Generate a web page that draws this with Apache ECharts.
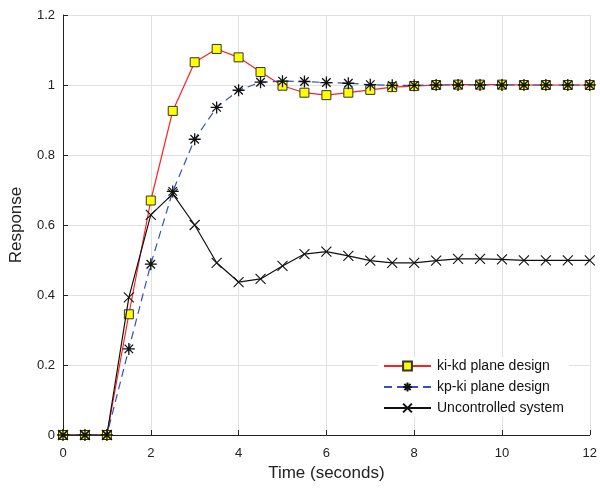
<!DOCTYPE html>
<html>
<head>
<meta charset="utf-8">
<script src="https://cdn.jsdelivr.net/npm/echarts@6/dist/echarts.min.js"></script>
<style>
html,body{margin:0;padding:0;background:#fff;}
#chart{width:600px;height:488px;}
</style>
</head>
<body>
<div id="chart"></div>
<script>
const time = [0,0.5,1,1.5,2,2.5,3,3.5,4,4.5,5,5.5,6,6.5,7,7.5,8,8.5,9,9.5,10,10.5,11,11.5,12];
const kikd = [0,0,0,0.345,0.670,0.926,1.065,1.103,1.079,1.037,0.998,0.978,0.971,0.978,0.986,0.994,0.997,1.000,1.001,1.001,1.001,1.000,1.000,1.000,1.000];
const kpki = [0,0,0,0.246,0.488,0.696,0.845,0.936,0.985,1.008,1.011,1.010,1.007,1.005,1.001,0.999,0.999,1.000,1.000,1.000,1.000,1.000,1.000,1.000,1.000];
const uncontrolled = [0,0,0,0.393,0.629,0.689,0.600,0.492,0.437,0.446,0.483,0.517,0.524,0.512,0.498,0.492,0.492,0.498,0.503,0.503,0.502,0.499,0.499,0.499,0.499];
const seriesNames = ['ki-kd plane design','kp-ki plane design','Uncontrolled system'];

const pairs = arr => time.map((t,i)=>[t,arr[i]]);
const FONT = '"Liberation Sans", Arial, sans-serif';
const starPath = 'path://M0,-10L0,10M-10,0L10,0M-7.07,-7.07L7.07,7.07M-7.07,7.07L7.07,-7.07';
const xPath = 'path://M-10,-10L10,10M-10,10L10,-10';

const chart = echarts.init(document.getElementById('chart'), null, {renderer:'canvas'});
chart.setOption({
  animation:false,
  backgroundColor:'#fff',
  textStyle:{fontFamily:FONT},
  grid:{left:61,right:9,top:15,bottom:53,containLabel:false},
  xAxis:{
    type:'value',min:0,max:12,interval:2,
    name:'Time (seconds)',nameLocation:'middle',nameGap:26,
    nameTextStyle:{fontSize:17,color:'#222',fontFamily:FONT},
    axisLine:{show:true,lineStyle:{color:'#222',width:1}},
    axisTick:{show:true,inside:true,length:5,lineStyle:{color:'#222'}},
    axisLabel:{fontSize:13,color:'#222',margin:12,fontFamily:FONT},
    splitLine:{show:true,lineStyle:{color:'#e0e0e0',width:1}}
  },
  yAxis:{
    type:'value',min:0,max:1.2,interval:0.2,
    name:'Response',nameLocation:'middle',nameGap:38,
    nameTextStyle:{fontSize:17,color:'#222',fontFamily:FONT},
    axisLine:{show:true,lineStyle:{color:'#222',width:1}},
    axisTick:{show:true,inside:true,length:5,lineStyle:{color:'#222'}},
    axisLabel:{fontSize:13,color:'#222',margin:8,fontFamily:FONT},
    splitLine:{show:true,lineStyle:{color:'#e0e0e0',width:1}}
  },
  legend:{
    orient:'vertical',left:378,top:357,
    backgroundColor:'#fff',padding:[2,5],
    itemWidth:47,itemHeight:11,itemGap:7,
    textStyle:{fontSize:14,color:'#111',fontFamily:FONT,padding:[0,0,0,1]},
    data:seriesNames
  },
  series:[
    {
      name:seriesNames[0],type:'line',data:pairs(kikd),
      symbol:'rect',symbolSize:9,
      itemStyle:{color:'#ffff00',borderColor:'#333',borderWidth:1},
      lineStyle:{color:'#ff2020',width:1.2},
      z:2
    },
    {
      name:seriesNames[1],type:'line',data:pairs(kpki),
      symbol:starPath,symbolSize:12,
      itemStyle:{color:'#111',borderColor:'#111',borderWidth:1.3},
      lineStyle:{color:'#3552b8',width:1.2,type:[8,5]},
      z:3
    },
    {
      name:seriesNames[2],type:'line',data:pairs(uncontrolled),
      symbol:xPath,symbolSize:10,
      itemStyle:{color:'#111',borderColor:'#111',borderWidth:1.1},
      lineStyle:{color:'#111',width:1.2},
      z:4
    }
  ]
});
</script>
</body>
</html>
